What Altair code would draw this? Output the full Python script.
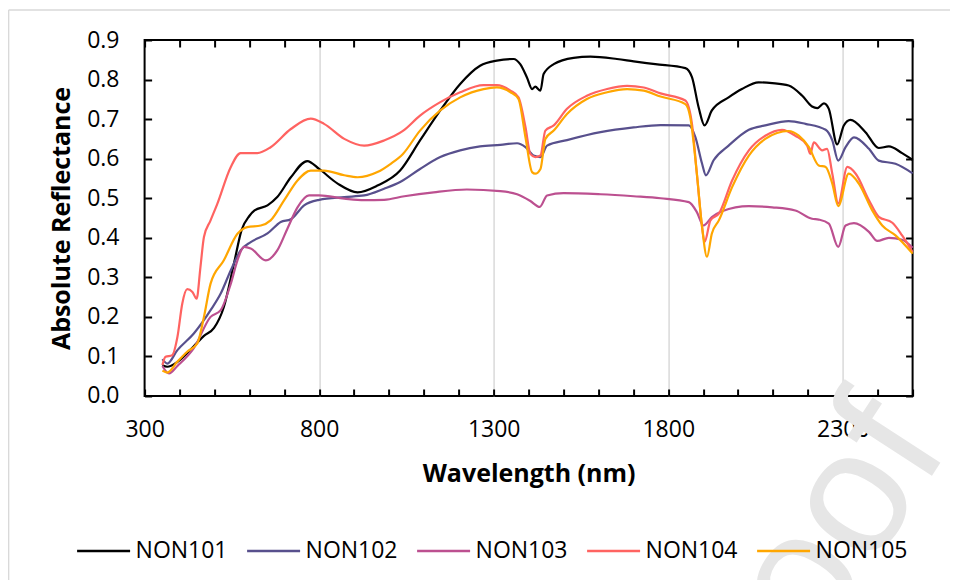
import altair as alt
import pandas as pd

# ---------------- data ----------------
samples = ["NON101", "NON102", "NON103", "NON104", "NON105"]
colors = ["#000000", "#58508d", "#bc5090", "#ff6361", "#ffa600"]

wl_101 = [351, 365, 395, 441, 470, 499, 527, 556, 578, 600, 615, 652, 680, 719, 766, 800,
          853, 910, 967, 1032, 1089, 1147, 1204, 1261, 1309, 1357, 1376, 1395, 1410, 1419,
          1434, 1443, 1472, 1529, 1577, 1653, 1701, 1763, 1849, 1868, 1887, 1904, 1925,
          1973, 2011, 2059, 2098, 2145, 2184, 2212, 2227, 2246, 2260, 2284, 2303, 2322,
          2365, 2403, 2432, 2470, 2500]
val_101 = [0.078, 0.074, 0.087, 0.126, 0.152, 0.172, 0.225, 0.335, 0.420, 0.455, 0.469,
           0.482, 0.503, 0.553, 0.594, 0.574, 0.537, 0.515, 0.532, 0.570, 0.646, 0.722,
           0.789, 0.835, 0.848, 0.852, 0.839, 0.806, 0.776, 0.782, 0.772, 0.814, 0.839,
           0.855, 0.858, 0.852, 0.846, 0.839, 0.829, 0.806, 0.730, 0.684, 0.722, 0.755,
           0.776, 0.793, 0.791, 0.785, 0.759, 0.732, 0.728, 0.740, 0.726, 0.636, 0.684,
           0.698, 0.667, 0.627, 0.631, 0.614, 0.597]

wl_102 = [351, 365, 394, 441, 489, 518, 547, 575, 604, 652, 690, 719, 757, 800, 872, 929,
          986, 1032, 1089, 1147, 1204, 1261, 1319, 1367, 1391, 1414, 1434, 1453, 1510,
          1606, 1701, 1778, 1859, 1878, 1897, 1908, 1930, 1973, 2031, 2078, 2145, 2193,
          2251, 2270, 2287, 2308, 2332, 2375, 2403, 2451, 2500]
val_102 = [0.093, 0.082, 0.116, 0.158, 0.217, 0.259, 0.318, 0.368, 0.389, 0.411, 0.440,
           0.447, 0.482, 0.496, 0.503, 0.507, 0.524, 0.541, 0.574, 0.604, 0.621, 0.631,
           0.635, 0.639, 0.629, 0.608, 0.604, 0.633, 0.647, 0.667, 0.679, 0.685, 0.684,
           0.654, 0.587, 0.558, 0.596, 0.633, 0.673, 0.684, 0.695, 0.688, 0.673, 0.646,
           0.595, 0.629, 0.654, 0.625, 0.595, 0.587, 0.563]

wl_103 = [351, 370, 394, 441, 489, 518, 547, 566, 585, 604, 647, 680, 709, 738, 771, 800,
          872, 929, 986, 1044, 1128, 1223, 1319, 1367, 1405, 1432, 1453, 1500, 1606, 1701,
          1778, 1859, 1882, 1901, 1925, 1954, 2031, 2098, 2164, 2212, 2231, 2260, 2287,
          2308, 2332, 2375, 2399, 2432, 2470, 2500]
val_103 = [0.076, 0.057, 0.076, 0.121, 0.200, 0.217, 0.284, 0.343, 0.377, 0.373, 0.343,
           0.368, 0.423, 0.477, 0.507, 0.507, 0.499, 0.495, 0.496, 0.505, 0.515, 0.522,
           0.518, 0.510, 0.493, 0.478, 0.507, 0.513, 0.510, 0.505, 0.500, 0.490, 0.465,
           0.431, 0.452, 0.467, 0.480, 0.477, 0.469, 0.448, 0.446, 0.436, 0.377, 0.431,
           0.437, 0.415, 0.392, 0.400, 0.395, 0.375]

wl_104 = [351, 360, 379, 394, 408, 422, 437, 449, 460, 470, 489, 508, 547, 575, 623, 661,
          719, 776, 814, 872, 929, 986, 1040, 1089, 1147, 1204, 1271, 1309, 1348, 1371,
          1391, 1405, 1419, 1434, 1448, 1472, 1510, 1567, 1625, 1682, 1730, 1778, 1849,
          1868, 1882, 1897, 1904, 1921, 1945, 1983, 2031, 2078, 2126, 2164, 2198, 2207,
          2217, 2241, 2255, 2270, 2287, 2313, 2337, 2375, 2403, 2442, 2470, 2500]
val_104 = [0.078, 0.099, 0.103, 0.149, 0.234, 0.270, 0.263, 0.246, 0.326, 0.402, 0.444,
           0.485, 0.579, 0.614, 0.614, 0.629, 0.675, 0.701, 0.688, 0.650, 0.633, 0.646,
           0.670, 0.709, 0.743, 0.768, 0.786, 0.786, 0.772, 0.755, 0.680, 0.612, 0.604,
           0.608, 0.671, 0.684, 0.726, 0.759, 0.776, 0.784, 0.780, 0.765, 0.747, 0.688,
           0.562, 0.427, 0.389, 0.444, 0.461, 0.545, 0.621, 0.658, 0.673, 0.658, 0.633,
           0.612, 0.641, 0.621, 0.625, 0.562, 0.487, 0.579, 0.562, 0.495, 0.453, 0.438,
           0.406, 0.364]

wl_105 = [351, 365, 394, 422, 451, 470, 489, 527, 566, 594, 633, 661, 700, 738, 776, 814,
          872, 910, 967, 1005, 1040, 1089, 1147, 1204, 1271, 1309, 1348, 1371, 1391, 1410,
          1419, 1434, 1448, 1472, 1510, 1567, 1625, 1682, 1730, 1778, 1849, 1863, 1882,
          1897, 1911, 1925, 1945, 1983, 2031, 2078, 2145, 2174, 2203, 2231, 2251, 2270,
          2287, 2317, 2346, 2384, 2413, 2451, 2500]
val_105 = [0.064, 0.059, 0.087, 0.112, 0.133, 0.200, 0.284, 0.343, 0.410, 0.427, 0.431,
           0.444, 0.495, 0.545, 0.570, 0.570, 0.558, 0.553, 0.566, 0.587, 0.612, 0.671,
           0.722, 0.755, 0.776, 0.780, 0.768, 0.751, 0.654, 0.566, 0.562, 0.574, 0.650,
           0.671, 0.713, 0.751, 0.768, 0.776, 0.772, 0.757, 0.738, 0.705, 0.562, 0.427,
           0.352, 0.411, 0.444, 0.528, 0.608, 0.650, 0.670, 0.658, 0.629, 0.583, 0.579,
           0.537, 0.480, 0.562, 0.537, 0.470, 0.431, 0.406, 0.360]

x_ticks = list(range(300, 2501, 100))
y_ticks = [0.0, 0.1, 0.2, 0.3, 0.4, 0.5, 0.6, 0.7, 0.8, 0.9]

# ---------------- build long table ----------------
rows = []
for name, wl, vals in zip(samples,
                          [wl_101, wl_102, wl_103, wl_104, wl_105],
                          [val_101, val_102, val_103, val_104, val_105]):
    for w, v in zip(wl, vals):
        rows.append({"Wavelength": w, "Reflectance": v, "Sample": name})
df = pd.DataFrame(rows)
one = pd.DataFrame({"k": [0]})

FONT = "Open Sans"
W, H = 768, 356

xscale = alt.Scale(domain=[300, 2500], nice=False, zero=False)
yscale = alt.Scale(domain=[0, 0.9], nice=False, zero=True)

color = alt.Color(
    "Sample:N",
    scale=alt.Scale(domain=samples, range=colors),
    legend=alt.Legend(
        orient="none", legendX=-69, legendY=483, direction="horizontal", columns=5,
        title=None, symbolType="stroke", symbolSize=2809, symbolStrokeWidth=2.5,
        labelFont=FONT, labelFontSize=23, labelColor="black", labelOffset=4,
        columnPadding=14, padding=0, labelLimit=300,
    ),
)

lines = alt.Chart(df).mark_line(strokeWidth=2.2, interpolate="monotone").encode(
    x=alt.X(
        "Wavelength:Q", scale=xscale,
        axis=alt.Axis(
            orient="bottom", values=x_ticks, format="d",
            labelExpr="(datum.value - 300) % 500 == 0 ? datum.label : ''",
            domain=False, tickSize=7, tickWidth=2, tickColor="black", offset=-7,
            labelPadding=34, labelBaseline="middle", labelFont=FONT, labelFontSize=23,
            labelColor="black", labelFlush=False, labelOverlap=False,
            grid=True, gridColor="#d9d9d9", gridWidth=1.5,
            gridOpacity={"condition": {"test": "(datum.value - 300) % 500 == 0 && datum.value > 300",
                                       "value": 1}, "value": 0},
            title="Wavelength (nm)", titleFont=FONT, titleFontSize=25, titleFontWeight="bold",
            titleColor="black", titleY=85, titleBaseline="middle",
        ),
    ),
    y=alt.Y(
        "Reflectance:Q", scale=yscale,
        axis=alt.Axis(
            orient="left", values=y_ticks, format=".1f",
            domain=False, tickSize=7, tickWidth=2, tickColor="black", offset=-7,
            labelPadding=25.6, labelFont=FONT, labelFontSize=23, labelColor="black",
            labelFlush=False, labelOverlap=False, grid=False,
            title="Absolute Reflectance", titleFont=FONT, titleFontSize=25,
            titleFontWeight="bold", titleColor="black", titleX=-89.6, titleBaseline="middle",
        ),
    ),
    color=color,
)

mirror = alt.Chart(df).mark_line(opacity=0).encode(
    x=alt.X(
        "Wavelength:Q", scale=xscale,
        axis=alt.Axis(orient="top", values=x_ticks, labels=False, domain=False, tickSize=7,
                      tickWidth=2, tickColor="black", offset=-7, grid=False, title=""),
    ),
    y=alt.Y(
        "Reflectance:Q", scale=yscale,
        axis=alt.Axis(orient="right", values=y_ticks, labels=False, domain=False, tickSize=7,
                      tickWidth=2, tickColor="black", offset=-7, grid=False, title=""),
    ),
    detail="Sample:N",
)

border_left = alt.Chart(one).mark_rule(color="#d9d9d9", strokeWidth=1.5).encode(
    x=alt.value(-136), y=alt.value(-30), y2=alt.value(560)
)
border_top = alt.Chart(one).mark_rule(color="#d9d9d9", strokeWidth=1.5).encode(
    x=alt.value(-136), x2=alt.value(820), y=alt.value(-30)
)

watermark = alt.Chart(one).mark_text(
    text="Journal Pre-proof", fontSize=175, color="#e6e6e6", angle=303,
    align="right", baseline="alphabetic", font="Liberation Sans",
).encode(x=alt.value(950 - 144.6), y=alt.value(448 - 40))

chart = (
    alt.layer(border_left, border_top, lines, mirror, watermark)
    .resolve_axis(x="independent", y="independent")
    .properties(
        width=W, height=H,
        autosize=alt.AutoSizeParams(type="none"),
        padding={"left": 136.6, "top": 32, "right": 37, "bottom": 184},
    )
    .configure_view(stroke="black", strokeWidth=2)
)

chart.save("out.html", embed_options={"renderer": "svg", "actions": False})
